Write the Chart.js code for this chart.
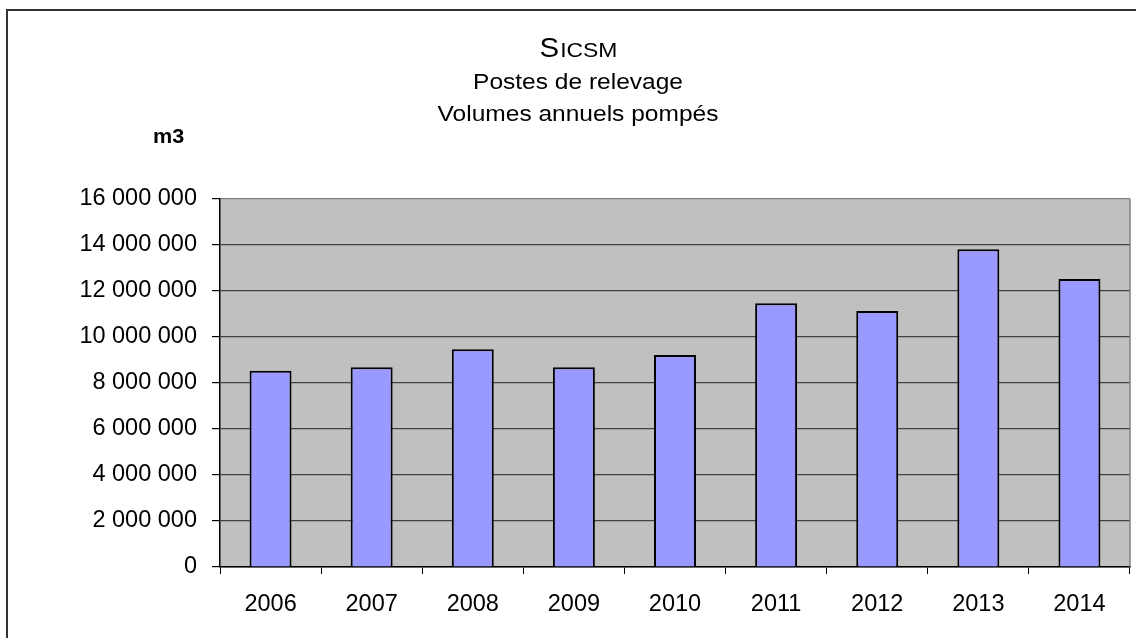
<!DOCTYPE html>
<html>
<head>
<meta charset="utf-8">
<script src="https://cdn.jsdelivr.net/npm/chart.js@4/dist/chart.umd.min.js"></script>
<style>
  body { margin: 0; background: #fff; }
  #wrap { position: relative; width: 1136px; height: 638px; overflow: hidden; }
  #frame { position: absolute; left: 6px; top: 9px; width: 1200px; height: 700px;
           border-top: 2px solid #333; border-left: 2px solid #333; }
  canvas { position: absolute; left: 0; top: 0; }
</style>
</head>
<body>
<div id="wrap">
  <div id="frame"></div>
  <canvas id="chart" width="1136" height="638"></canvas>
</div>
<script>
// values (m3)
let years = ["2006", "2007", "2008", "2009", "2010", "2011", "2012", "2013", "2014"]
let volumes = [8530000, 8690000, 9470000, 8690000, 9220000, 11470000, 11130000, 13820000, 12520000]
let titleLines = ["Postes de relevage", "Volumes annuels pompés"]
let unitLabel = "m3"

let font = "'Liberation Sans', Arial, sans-serif"

function spaced(v) {
    return v.toString().replace(/\B(?=(\d{3})+(?!\d))/g, " ")
}

// text in the original is a bit wide, stretch it a little
function wideText(ctx, text, x, y, sx) {
    ctx.save()
    ctx.translate(x, y)
    ctx.scale(sx, 1)
    ctx.fillText(text, 0, 0)
    ctx.restore()
}

let backdrop = {
    id: "backdrop",
    beforeDraw(chart) {
        let a = chart.chartArea
        let ctx = chart.ctx
        ctx.save()
        ctx.fillStyle = "#c0c0c0"
        ctx.fillRect(a.left, a.top, a.right - a.left, a.bottom - a.top)
        ctx.restore()
    },
    afterDraw(chart) {
        let a = chart.chartArea
        let ctx = chart.ctx
        let sx = 1.09
        ctx.save()
        // right border of plot
        ctx.strokeStyle = "#808080"
        ctx.lineWidth = 1.5
        ctx.beginPath()
        ctx.moveTo(a.right, a.top)
        ctx.lineTo(a.right, a.bottom)
        ctx.stroke()

        // title: SICSM in small caps, then two lines
        ctx.fillStyle = "#000"
        ctx.textBaseline = "alphabetic"
        let cx = 578
        ctx.font = "27px " + font
        let wS = ctx.measureText("S").width * sx
        ctx.font = "21px " + font
        let wRest = ctx.measureText("ICSM").width * sx
        let x0 = cx - (wS + wRest) / 2
        ctx.textAlign = "left"
        ctx.font = "27px " + font
        wideText(ctx, "S", x0, 57, sx)
        ctx.font = "21px " + font
        wideText(ctx, "ICSM", x0 + wS + 1, 57, sx)

        ctx.textAlign = "center"
        ctx.font = "22.5px " + font
        wideText(ctx, titleLines[0], cx, 89, sx)
        wideText(ctx, titleLines[1], cx, 121, sx)

        ctx.font = "bold 20px " + font
        ctx.textAlign = "left"
        wideText(ctx, unitLabel, 153, 143, 1.08)
        ctx.restore()
    }
}

let chart = new Chart(document.getElementById("chart").getContext("2d"), {
    type: "bar",
    data: {
        labels: years,
        datasets: [{
            data: volumes,
            backgroundColor: "#9999ff",
            borderColor: "#000",
            borderWidth: 2,
            barPercentage: 0.415,
            categoryPercentage: 1
        }]
    },
    options: {
        responsive: false,
        animation: false,
        layout: {
            padding: { top: 199, right: 6, left: 0, bottom: 0 }
        },
        plugins: {
            legend: { display: false },
            title: { display: false },
            tooltip: { enabled: false }
        },
        scales: {
            x: {
                afterFit(scale) { scale.height = 71 },
                grid: {
                    offset: true,
                    drawOnChartArea: false,
                    drawTicks: true,
                    tickLength: 7,
                    color: "#000"
                },
                border: { color: "#000", width: 1.5 },
                ticks: {
                    color: "#000",
                    padding: 16,
                    font: { family: font, size: 23.5 }
                }
            },
            y: {
                min: 0,
                max: 16000000,
                afterFit(scale) { scale.width = 220 },
                grid: {
                    color: ctx => ctx.tick && ctx.tick.value === 16000000 ? "#808080" : "#404040",
                    lineWidth: 1.2,
                    tickLength: 8,
                    tickColor: "#000"
                },
                border: { color: "#000", width: 1.5 },
                ticks: {
                    stepSize: 2000000,
                    color: "#000",
                    padding: 15,
                    font: { family: font, size: 23.5 },
                    callback: v => spaced(v)
                }
            }
        }
    },
    plugins: [backdrop]
})
</script>
</body>
</html>
